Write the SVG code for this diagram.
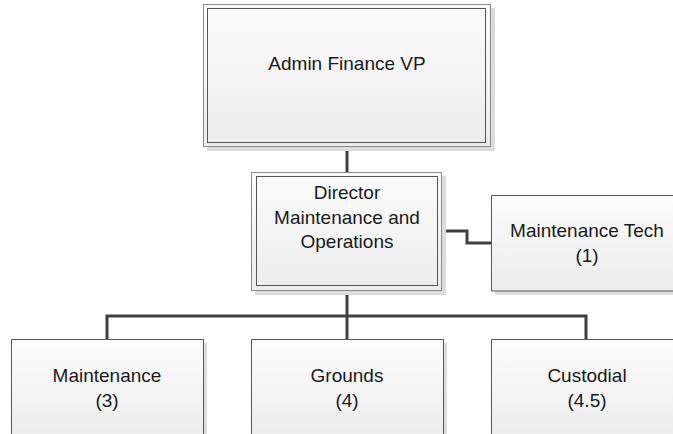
<svg xmlns="http://www.w3.org/2000/svg" width="673" height="434" viewBox="0 0 673 434">
  <defs>
    <linearGradient id="boxFill" x1="0" y1="0" x2="0" y2="1">
      <stop offset="0" stop-color="#fcfcfc"/>
      <stop offset="1" stop-color="#ececec"/>
    </linearGradient>
  </defs>
  <style>
    .shadow { fill: #dcdcdc; }
    .box { fill: url(#boxFill); stroke: #5a5a5a; stroke-width: 1; }
    .outer { fill: url(#boxFill); stroke: #8a8a8a; stroke-width: 1; }
    .inner { fill: none; stroke: #555555; stroke-width: 1; }
    .link { fill: none; stroke: #404040; stroke-width: 3; }
    text { font-family: "Liberation Sans", Arial, sans-serif; font-size: 19px; fill: #1a1a1a; text-anchor: middle; }
  </style>

  <rect width="673" height="434" fill="#ffffff"/>

  <!-- connectors -->
  <g id="connectors">
    <path class="link" d="M347 147 V172"/>
    <path class="link" d="M442 231 H467 V243 H491"/>
    <path class="link" d="M347 291 V316"/>
    <path class="link" d="M107 339 V316 H586 V339"/>
    <path class="link" d="M347 316 V339"/>
  </g>

  <!-- Admin Finance VP -->
  <g id="admin-finance-vp">
    <rect class="shadow" x="207" y="8" width="288" height="143"/>
    <rect class="outer" x="203.5" y="4.5" width="287" height="142"/>
    <rect class="inner" x="207.5" y="8.5" width="278" height="134"/>
    <text x="347" y="70">Admin Finance VP</text>
  </g>

  <!-- Director Maintenance and Operations -->
  <g id="director">
    <rect class="shadow" x="255" y="176" width="191" height="119"/>
    <rect class="outer" x="251.5" y="172.5" width="190" height="118"/>
    <rect class="inner" x="256.5" y="176.5" width="181" height="109"/>
    <text x="347" y="199">Director</text>
    <text x="347" y="223.5">Maintenance and</text>
    <text x="347" y="248">Operations</text>
  </g>

  <!-- Maintenance Tech -->
  <g id="maintenance-tech">
    <rect class="shadow" x="495" y="199" width="192" height="96"/>
    <rect class="box" x="491.5" y="195.5" width="192" height="95.5"/>
    <text x="587" y="237">Maintenance Tech</text>
    <text x="587" y="261.5">(1)</text>
  </g>

  <!-- Maintenance -->
  <g id="maintenance">
    <rect class="shadow" x="15" y="343" width="192" height="100"/>
    <rect class="box" x="11.5" y="339.5" width="192" height="100"/>
    <text x="107" y="382">Maintenance</text>
    <text x="107" y="406.5">(3)</text>
  </g>

  <!-- Grounds -->
  <g id="grounds">
    <rect class="shadow" x="255" y="343" width="192" height="100"/>
    <rect class="box" x="251.5" y="339.5" width="192" height="100"/>
    <text x="347" y="382">Grounds</text>
    <text x="347" y="406.5">(4)</text>
  </g>

  <!-- Custodial -->
  <g id="custodial">
    <rect class="shadow" x="495" y="343" width="192" height="100"/>
    <rect class="box" x="491.5" y="339.5" width="192" height="100"/>
    <text x="587" y="382">Custodial</text>
    <text x="587" y="406.5">(4.5)</text>
  </g>
</svg>
